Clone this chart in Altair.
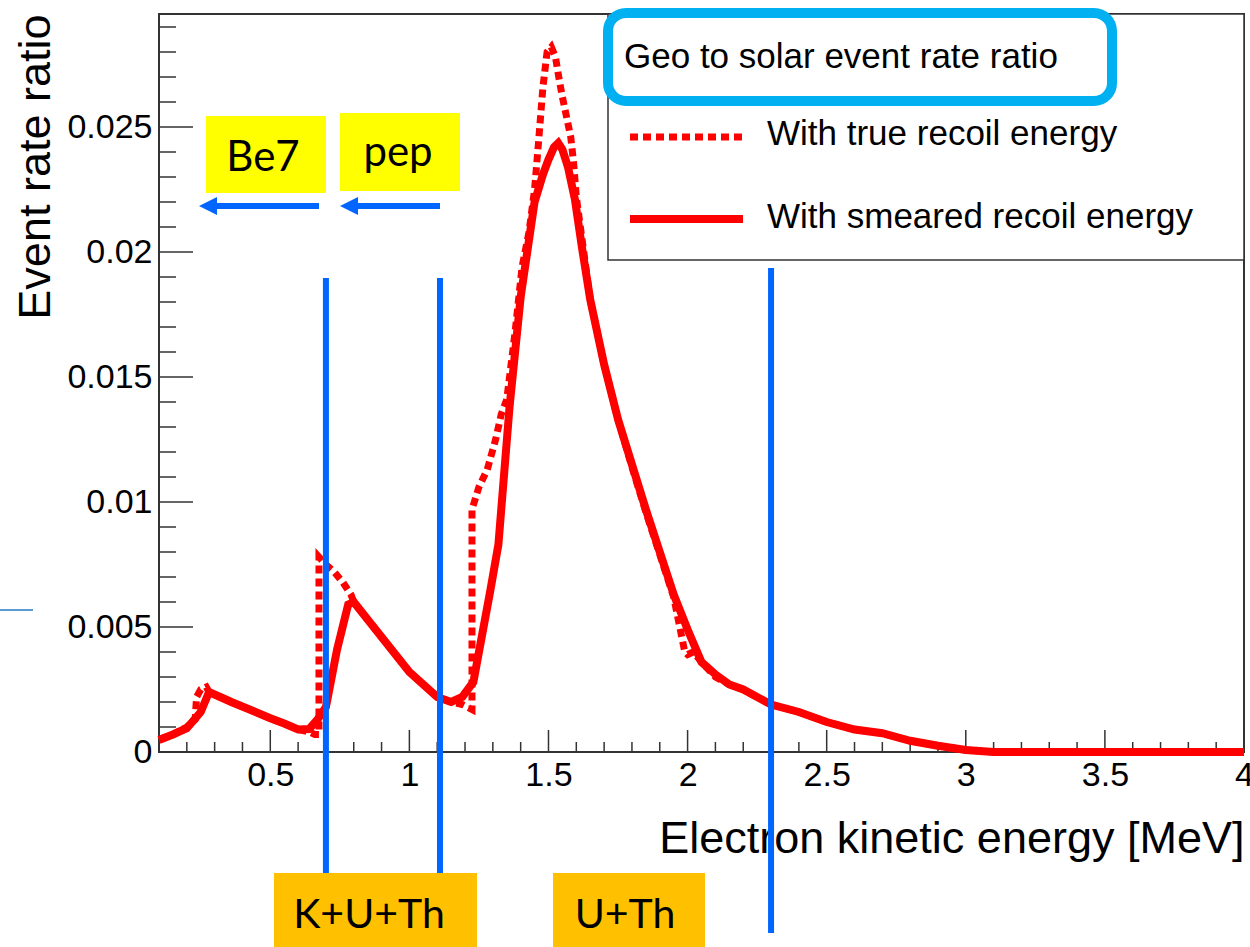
import altair as alt
import pandas as pd

# ---------------- data ----------------
smeared_x = [0.10, 0.15, 0.20, 0.25, 0.28, 0.32, 0.36, 0.43, 0.50, 0.55, 0.60, 0.64, 0.67,
             0.70, 0.74, 0.78, 0.80, 0.85, 0.90, 0.95, 1.00, 1.05, 1.10, 1.15, 1.19, 1.23,
             1.26, 1.29, 1.32, 1.36, 1.40, 1.45, 1.48, 1.50, 1.52, 1.535, 1.55, 1.57, 1.595,
             1.62, 1.65, 1.70, 1.75, 1.80, 1.85, 1.90, 1.95, 2.00, 2.05, 2.10, 2.15, 2.20,
             2.30, 2.40, 2.50, 2.60, 2.70, 2.80, 2.90, 3.00, 3.10, 3.50, 4.00]
smeared_y = [0.00048, 0.0007, 0.00095, 0.0016, 0.0024, 0.0022, 0.0020, 0.00168, 0.00135,
             0.00114, 0.0009, 0.00092, 0.0013, 0.0018, 0.0041, 0.0059, 0.0060, 0.0053,
             0.0046, 0.0039, 0.0032, 0.0027, 0.0022, 0.0020, 0.0022, 0.0028, 0.0046,
             0.0064, 0.0083, 0.0138, 0.0182, 0.0220, 0.0231, 0.0237, 0.0242, 0.02436,
             0.0241, 0.0234, 0.0221, 0.0202, 0.0181, 0.0155, 0.0133, 0.0115, 0.0097,
             0.0080, 0.0063, 0.0049, 0.0036, 0.0031, 0.0027, 0.0025, 0.0019, 0.0016,
             0.0012, 0.0009, 0.00075, 0.00045, 0.00025, 0.00008, 0.0, 0.0, 0.0]

true_x = [0.10, 0.15, 0.20, 0.23, 0.235, 0.25, 0.27, 0.28, 0.32, 0.36, 0.43, 0.50, 0.55,
          0.60, 0.64, 0.66, 0.675, 0.675, 0.70, 0.73, 0.76, 0.79, 0.80, 0.85, 0.90, 0.95,
          1.00, 1.05, 1.10, 1.15, 1.19, 1.225, 1.225, 1.25, 1.28, 1.31, 1.33, 1.35, 1.38,
          1.405, 1.43, 1.45, 1.465, 1.48, 1.495, 1.51, 1.525, 1.54, 1.55, 1.58, 1.59,
          1.60, 1.65, 1.70, 1.75, 1.80, 1.85, 1.90, 1.95, 1.99, 2.00, 2.02, 2.05, 2.10,
          2.15, 2.20, 2.30, 2.40, 2.50, 2.60, 2.70, 2.80, 2.90, 3.00, 3.10, 3.50, 4.00]
true_y = [0.0005, 0.0007, 0.0010, 0.0013, 0.0022, 0.0025, 0.0026, 0.0024, 0.0022, 0.0020,
          0.00168, 0.00135, 0.00114, 0.0009, 0.0008, 0.0007, 0.0007, 0.0078, 0.0075,
          0.0072, 0.0068, 0.0063, 0.0060, 0.0053, 0.0046, 0.0039, 0.0032, 0.0027, 0.0022,
          0.0020, 0.0019, 0.0017, 0.0097, 0.0106, 0.0113, 0.0125, 0.0135, 0.0141, 0.0168,
          0.0194, 0.0208, 0.0225, 0.0245, 0.0266, 0.0280, 0.0282, 0.0278, 0.0268, 0.0262,
          0.0246, 0.0236, 0.0222, 0.0181, 0.0155, 0.0133, 0.0114, 0.0096, 0.0079, 0.0062,
          0.0040, 0.0039, 0.0040, 0.0036, 0.0030, 0.0027, 0.0025, 0.0019, 0.0016, 0.0012,
          0.0009, 0.00075, 0.00045, 0.00025, 0.00008, 0.0, 0.0, 0.0]

series_names = ["With true recoil energy", "With smeared recoil energy"]
legend_title = "Geo to solar event rate ratio"
x_title = "Electron kinetic energy [MeV]"
y_title = "Event rate ratio"

x_major = [0.5, 1.0, 1.5, 2.0, 2.5, 3.0, 3.5, 4.0]
x_minor = [0.2, 0.3, 0.4, 0.6, 0.7, 0.8, 0.9, 1.1, 1.2, 1.3, 1.4, 1.6, 1.7, 1.8, 1.9,
           2.1, 2.2, 2.3, 2.4, 2.6, 2.7, 2.8, 2.9, 3.1, 3.2, 3.3, 3.4, 3.6, 3.7, 3.8, 3.9]
y_major = [0.0, 0.005, 0.01, 0.015, 0.02, 0.025]
y_minor = [0.001, 0.002, 0.003, 0.004, 0.006, 0.007, 0.008, 0.009, 0.011, 0.012, 0.013,
           0.014, 0.016, 0.017, 0.018, 0.019, 0.021, 0.022, 0.023, 0.024, 0.026, 0.027,
           0.028, 0.029]
x_domain = [0.1, 4.0]
y_domain = [0.0, 0.02952]

region_edges = [0.7, 1.11]        # K+U+Th window
uth_edge = [2.3]                  # U+Th upper edge

# ---------------- build ----------------
W, H = 1085, 738
FONT = "Liberation Sans"
RED = "#ff0000"
BLUE = "#0066ff"

xs = alt.Scale(domain=x_domain, nice=False, zero=False)
ys = alt.Scale(domain=y_domain, nice=False, zero=False)

xaxis = alt.Axis(values=x_major, format="~g", labelFont=FONT, labelFontSize=34,
                 labelColor="black", labelPadding=6, labelFlush=False, ticks=False,
                 tickSize=0, domain=False, grid=False, title=x_title, titleFont=FONT,
                 titleFontSize=45, titleFontWeight="normal", titleColor="black",
                 titleAnchor="end", titleAlign="right", titleX=W, titleY=100,
                 titleBaseline="alphabetic")
yaxis = alt.Axis(values=y_major, format="~g", labelFont=FONT, labelFontSize=34,
                 labelColor="black", labelPadding=7, ticks=False, tickSize=0,
                 domain=False, grid=False, title=y_title, titleFont=FONT,
                 titleFontSize=45, titleFontWeight="normal", titleColor="black",
                 titleAnchor="end", titleAlign="right", titleAngle=270, titleX=-110,
                 titleY=0, titleBaseline="alphabetic")

X = alt.X("x:Q", scale=xs, axis=xaxis)
Y = alt.Y("y:Q", scale=ys, axis=yaxis)

one = pd.DataFrame({"k": [0]})

df_s = pd.DataFrame({"x": smeared_x, "y": smeared_y, "i": range(len(smeared_x)),
                     "s": series_names[1]})
df_t = pd.DataFrame({"x": true_x, "y": true_y, "i": range(len(true_x)),
                     "s": series_names[0]})

# inward tick marks
xt_major = alt.Chart(pd.DataFrame({"x": x_major})).mark_rule(color="#333", strokeWidth=1.5).encode(
    x=X, y=alt.value(H), y2=alt.value(H - 22))
xt_minor = alt.Chart(pd.DataFrame({"x": x_minor})).mark_rule(color="#333", strokeWidth=1.5).encode(
    x=X, y=alt.value(H), y2=alt.value(H - 10))
yt_major = alt.Chart(pd.DataFrame({"y": y_major})).mark_rule(color="#333", strokeWidth=1.5).encode(
    y=Y, x=alt.value(0), x2=alt.value(34))
yt_minor = alt.Chart(pd.DataFrame({"y": y_minor})).mark_rule(color="#333", strokeWidth=1.5).encode(
    y=Y, x=alt.value(0), x2=alt.value(17))

true_line = alt.Chart(df_t).mark_line(color=RED, strokeWidth=7, strokeDash=[8, 5],
                                      interpolate="linear").encode(
    x=X, y=Y, order="i:Q")
smeared_line = alt.Chart(df_s).mark_line(color=RED, strokeWidth=8,
                                         interpolate="linear").encode(
    x=X, y=Y, order="i:Q")

vlines_a = alt.Chart(pd.DataFrame({"x": region_edges})).mark_rule(color=BLUE, strokeWidth=6).encode(
    x=X, y=alt.value(264), y2=alt.value(859))
vlines_b = alt.Chart(pd.DataFrame({"x": uth_edge})).mark_rule(color=BLUE, strokeWidth=6).encode(
    x=X, y=alt.value(254), y2=alt.value(919))


def box(x1, x2, y1, y2, **kw):
    return alt.Chart(one).mark_rect(**kw).encode(
        x=alt.value(x1), x2=alt.value(x2), y=alt.value(y1), y2=alt.value(y2))


def label(text, x, y, **kw):
    return alt.Chart(one).mark_text(text=text, **kw).encode(x=alt.value(x), y=alt.value(y))


def hline(x1, x2, y, **kw):
    return alt.Chart(one).mark_rule(**kw).encode(
        x=alt.value(x1), x2=alt.value(x2), y=alt.value(y))


# legend
leg_box = box(449, W, 0, 246, fill="white", stroke="#333", strokeWidth=1.5)
leg_title = label(legend_title, 465, 54, font=FONT, fontSize=35, align="left",
                  baseline="alphabetic", color="black")
leg_hilite = box(449, 953, -1, 87, fill="white", fillOpacity=0, stroke="#00b0f0",
                 strokeWidth=10, cornerRadius=18)
leg_s1 = hline(471, 584, 123, color=RED, strokeWidth=7, strokeDash=[8, 5])
leg_s2 = hline(471, 584, 205, color=RED, strokeWidth=8)
leg_t1 = label(series_names[0], 608, 131, font=FONT, fontSize=35, align="left",
               baseline="alphabetic", color="black")
leg_t2 = label(series_names[1], 608, 214, font=FONT, fontSize=35, align="left",
               baseline="alphabetic", color="black")

# Be7 / pep tags with arrows
ANN = "Lato"
be7_box = box(47, 167, 102, 179, fill="#ffff00")
be7_txt = label("Be7", 104, 157, font=ANN, fontSize=42, align="center",
                baseline="alphabetic", color="black")
pep_box = box(181, 301, 99, 177, fill="#ffff00")
pep_txt = label("pep", 239, 152, font=ANN, fontSize=42, align="center",
                baseline="alphabetic", color="black")
TRI = "M -1 0 L 1 -1 L 1 1 Z"
be7_arrow = hline(160, 52, 192, color=BLUE, strokeWidth=6)
be7_head = alt.Chart(one).mark_point(shape=TRI, size=324, filled=True, color=BLUE,
                                     opacity=1).encode(x=alt.value(49), y=alt.value(192))
pep_arrow = hline(281, 193, 192, color=BLUE, strokeWidth=6)
pep_head = alt.Chart(one).mark_point(shape=TRI, size=324, filled=True, color=BLUE,
                                     opacity=1).encode(x=alt.value(190), y=alt.value(192))

# orange tags below
kuth_box = box(115, 318, 859, 940, fill="#ffc000")
kuth_txt = label("K+U+Th", 210, 914, font=ANN, fontSize=41, align="center",
                 baseline="alphabetic", color="black")
uth_box = box(394, 546, 859, 940, fill="#ffc000")
uth_txt = label("U+Th", 466, 914, font=ANN, fontSize=41, align="center",
                baseline="alphabetic", color="black")

stray = hline(-159, -126, 596, color="#5b9bd5", strokeWidth=2)

chart = alt.layer(
    xt_minor, xt_major, yt_minor, yt_major,
    true_line, smeared_line,
    vlines_a, vlines_b,
    leg_box, leg_title, leg_s1, leg_s2, leg_t1, leg_t2, leg_hilite,
    be7_box, be7_txt, pep_box, pep_txt, be7_arrow, be7_head, pep_arrow, pep_head,
    kuth_box, kuth_txt, uth_box, uth_txt, stray,
).properties(
    width=W, height=H,
    padding={"left": 159, "top": 14, "right": 6, "bottom": 195},
    autosize=alt.AutoSizeParams(type="none"),
    background="white",
).configure_view(stroke="#333", strokeWidth=2)

chart.save("out.html", embed_options={"renderer": "svg", "actions": False})
